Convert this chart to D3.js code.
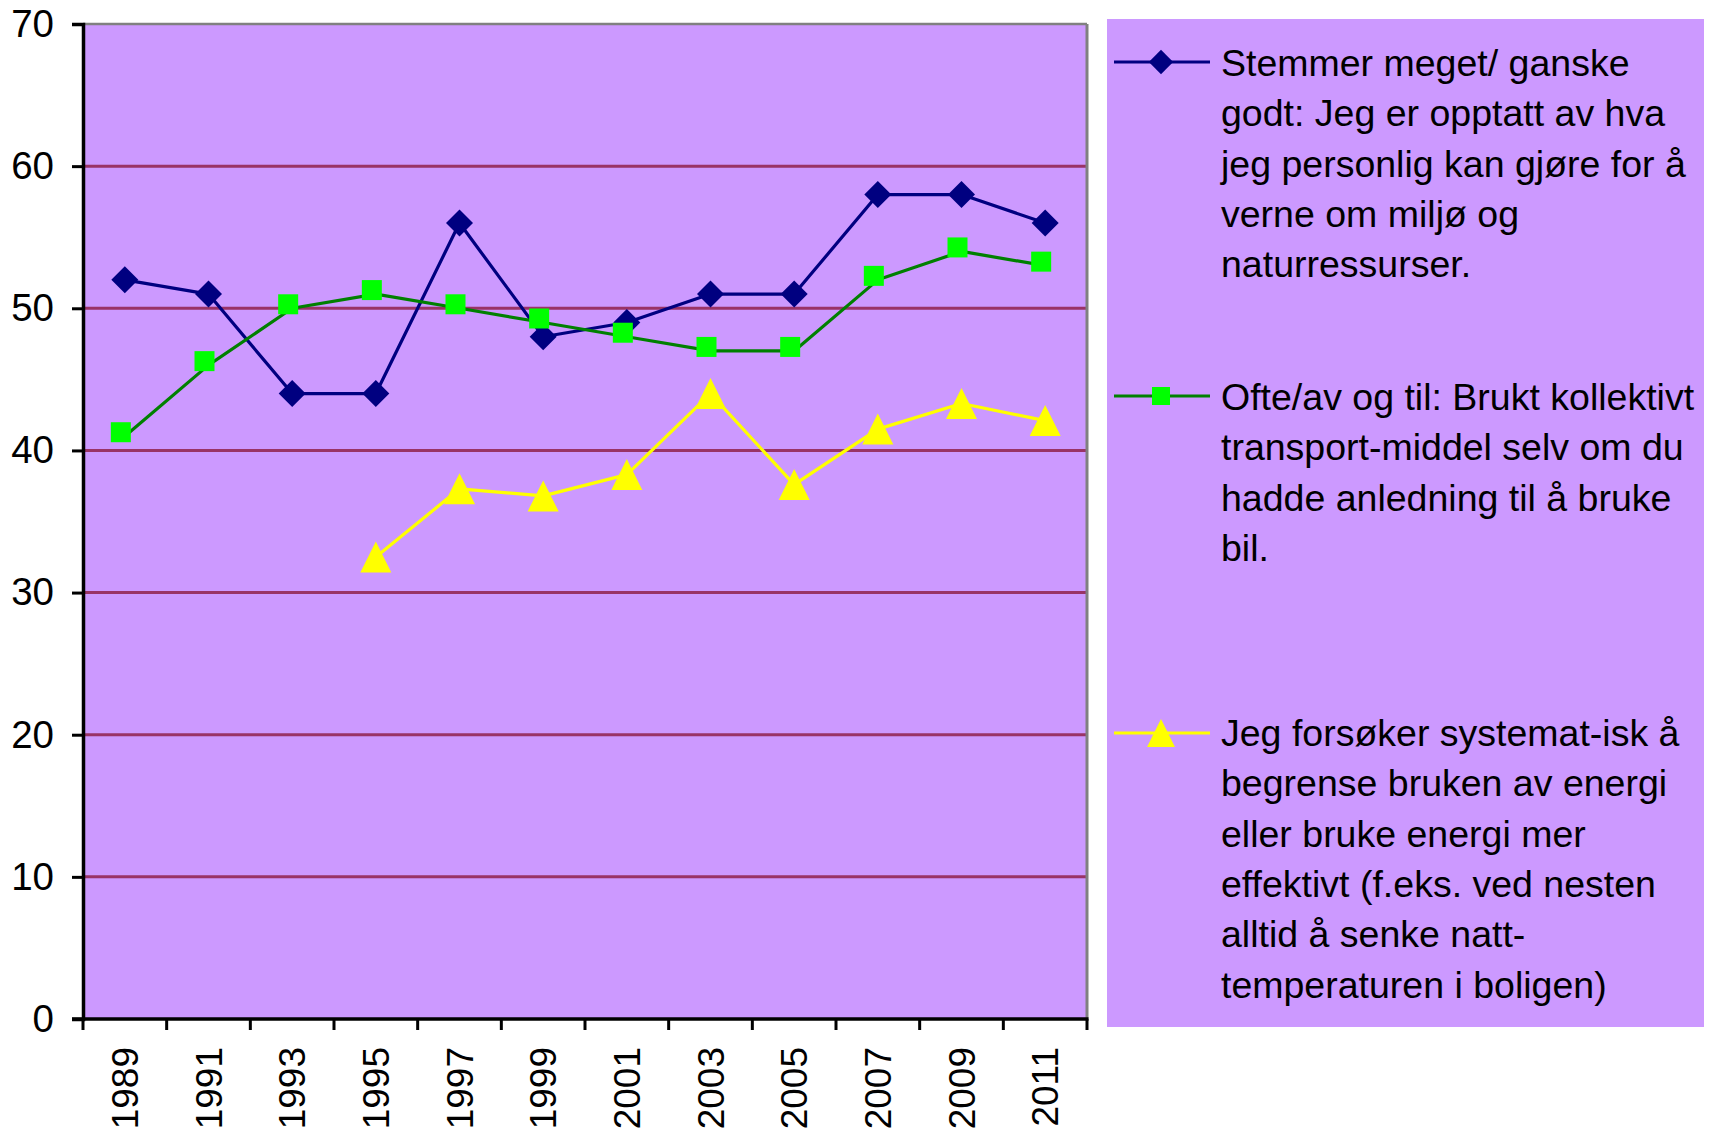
<!DOCTYPE html>
<html>
<head>
<meta charset="utf-8">
<script src="https://cdn.jsdelivr.net/npm/d3@7"></script>
<style>
  html, body { margin: 0; padding: 0; background: #ffffff; }
  svg { display: block; font-family: "Liberation Sans", Arial, sans-serif; }
</style>
</head>
<body>
<svg id="chart" width="1713" height="1133"></svg>
<script>
// ---- data ----
const years = ["1989","1991","1993","1995","1997","1999","2001","2003","2005","2007","2009","2011"];
const seriesStemmer = [52, 51, 44, 44, 56, 48, 49, 51, 51, 58, 58, 56];
const seriesKollektivt = [41, 46, 50, 51, 50, 49, 48, 47, 47, 52, 54, 53];
const seriesEnergi = [null, null, null, 32.5, 37.3, 36.8, 38.3, 44.0, 37.6, 41.5, 43.3, 42.1];
const yTicks = [0, 10, 20, 30, 40, 50, 60, 70];
const legendStemmer = ["Stemmer meget/ ganske", "godt: Jeg er opptatt av hva", "jeg personlig kan gjøre for å", "verne om miljø og", "naturressurser."];
const legendKollektivt = ["Ofte/av og til: Brukt kollektivt", "transport-middel selv om du", "hadde anledning til å bruke", "bil."];
const legendEnergi = ["Jeg forsøker systemat-isk å", "begrense bruken av energi", "eller bruke energi mer", "effektivt (f.eks. ved nesten", "alltid å senke natt-", "temperaturen i boligen)"];

// ---- layout ----
const svg = d3.select("#chart");
const plot = { left: 83, top: 24, right: 1087, bottom: 1019 };
const bg = "#CC99FF";

const x = d3.scaleBand().domain(years).range([plot.left, plot.right]).padding(0);
const y = d3.scaleLinear().domain([0, 70]).range([plot.bottom, plot.top]);
const cx = d => x(d) + x.bandwidth() / 2;

// plot background
svg.append("rect")
  .attr("x", plot.left).attr("y", plot.top)
  .attr("width", plot.right - plot.left).attr("height", plot.bottom - plot.top)
  .attr("fill", bg);

// gridlines
svg.append("g").selectAll("line")
  .data(yTicks.filter(t => t > 0 && t < 70))
  .join("line")
  .attr("x1", plot.left).attr("x2", plot.right)
  .attr("y1", d => y(d)).attr("y2", d => y(d))
  .attr("stroke", "#993366").attr("stroke-width", 3);

// top & right border (gray)
svg.append("line").attr("x1", plot.left).attr("x2", plot.right)
  .attr("y1", plot.top).attr("y2", plot.top)
  .attr("stroke", "#808080").attr("stroke-width", 2.5);
svg.append("line").attr("x1", plot.right).attr("x2", plot.right)
  .attr("y1", plot.top).attr("y2", plot.bottom)
  .attr("stroke", "#808080").attr("stroke-width", 3);

// y axis
const yAxis = d3.axisLeft(y).tickValues(yTicks).tickSize(11).tickPadding(18).tickFormat(d3.format("d"));
const gy = svg.append("g").attr("transform", `translate(${plot.left},0)`).call(yAxis);
gy.select(".domain").attr("stroke", "#000").attr("stroke-width", 3.5);
gy.selectAll(".tick line").attr("stroke", "#000").attr("stroke-width", 3);
gy.selectAll(".tick text").attr("font-size", 38.5).attr("fill", "#000")
  .attr("font-family", "'Liberation Sans', Arial, sans-serif");

// x axis line
svg.append("line").attr("x1", plot.left - 11).attr("x2", plot.right + 1.5)
  .attr("y1", plot.bottom).attr("y2", plot.bottom)
  .attr("stroke", "#000").attr("stroke-width", 3.5);
// x tick marks at category boundaries
const boundaries = years.map(d => x(d)).concat([plot.right]);
svg.append("g").selectAll("line").data(boundaries).join("line")
  .attr("x1", d => d).attr("x2", d => d)
  .attr("y1", plot.bottom).attr("y2", plot.bottom + 11)
  .attr("stroke", "#000").attr("stroke-width", 3);
// x labels rotated
svg.append("g").selectAll("text").data(years).join("text")
  .attr("transform", d => `translate(${cx(d)},${plot.bottom + 28}) rotate(-90)`)
  .attr("text-anchor", "end")
  .attr("dy", "0.36em")
  .attr("font-size", 37)
  .attr("fill", "#000")
  .text(d => d);

// ---- series ----
const line = d3.line()
  .defined(d => d.v !== null)
  .x(d => cx(d.year))
  .y(d => y(d.v));

const toPts = arr => years.map((yr, i) => ({ year: yr, v: arr[i] }));

const diamondPath = "M0,-13.5L13.5,0L0,13.5L-13.5,0Z";
const squarePath = "M-10,-10H10V10H-10Z";
const trianglePath = "M0,-15.5L15.5,15.5L-15.5,15.5Z";

const series = [
  { data: seriesStemmer, stroke: "#000080", fill: "#000080", path: diamondPath, dx: 0, dy: 0, legend: legendStemmer, ly: 62, ty: 76 },
  { data: seriesKollektivt, stroke: "#008000", fill: "#00FF00", path: squarePath, dx: -4, dy: -4, legend: legendKollektivt, ly: 396, ty: 410 },
  { data: seriesEnergi, stroke: "#FFFF00", fill: "#FFFF00", path: trianglePath, dx: 0, dy: 0, legend: legendEnergi, ly: 733, ty: 746 }
];

series.forEach(s => {
  const pts = toPts(s.data);
  svg.append("path").datum(pts)
    .attr("d", line)
    .attr("fill", "none")
    .attr("stroke", s.stroke)
    .attr("stroke-width", 3.2)
    .attr("stroke-linejoin", "round");
  svg.append("g").selectAll("path").data(pts.filter(p => p.v !== null)).join("path")
    .attr("d", s.path)
    .attr("transform", p => `translate(${cx(p.year) + s.dx},${y(p.v) + s.dy})`)
    .attr("fill", s.fill);
});

// ---- legend ----
const legend = svg.append("g");
legend.append("rect")
  .attr("x", 1107).attr("y", 19)
  .attr("width", 1704 - 1107).attr("height", 1027 - 19)
  .attr("fill", bg);

series.forEach(s => {
  legend.append("line")
    .attr("x1", 1114).attr("x2", 1210)
    .attr("y1", s.ly).attr("y2", s.ly)
    .attr("stroke", s.stroke).attr("stroke-width", 3);
  legend.append("path")
    .attr("d", s.path)
    .attr("transform", `translate(${1161},${s.ly}) scale(0.9)`)
    .attr("fill", s.fill);
  legend.append("g").selectAll("text").data(s.legend).join("text")
    .attr("x", 1221)
    .attr("y", (d, i) => s.ty + i * 50.3)
    .attr("font-size", 37.5)
    .attr("fill", "#000")
    .text(d => d);
});
</script>
</body>
</html>
